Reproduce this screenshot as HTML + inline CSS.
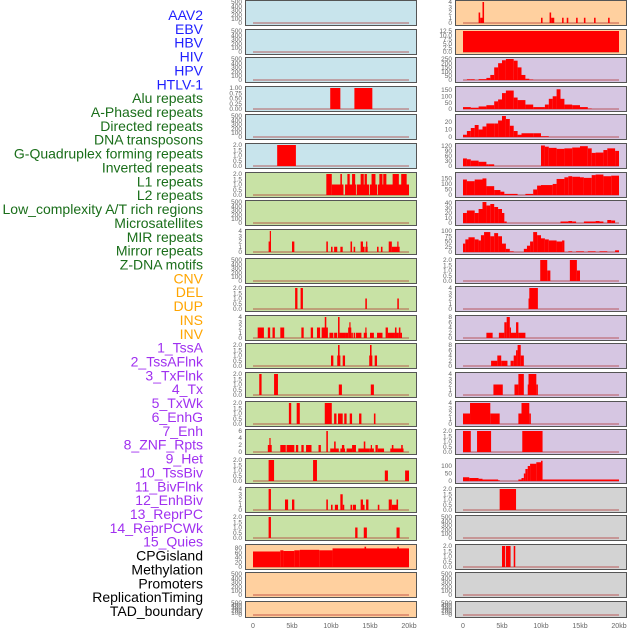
<!DOCTYPE html>
<html><head><meta charset="utf-8">
<style>
html,body{margin:0;padding:0;background:#fff;width:630px;height:630px;overflow:hidden}
svg{display:block}
.lab{font-family:"Liberation Sans",sans-serif;font-size:14px}
.tk{font-family:"Liberation Sans",sans-serif;font-size:6.5px;fill:#666}
.xt{font-family:"Liberation Sans",sans-serif;font-size:7px;fill:#666}
</style></head>
<body>
<svg id="chart" width="630" height="630"></svg>
<script>
const trackLabels = ["AAV2","EBV","HBV","HIV","HPV","HTLV-1","Alu repeats","A-Phased repeats","Directed repeats","DNA transposons","G-Quadruplex forming repeats","Inverted repeats","L1 repeats","L2 repeats","Low_complexity A/T rich regions","Microsatellites","MIR repeats","Mirror repeats","Z-DNA motifs","CNV","DEL","DUP","INS","INV","1_TssA","2_TssAFlnk","3_TxFlnk","4_Tx","5_TxWk","6_EnhG","7_Enh","8_ZNF_Rpts","9_Het","10_TssBiv","11_BivFlnk","12_EnhBiv","13_ReprPC","14_ReprPCWk","15_Quies","CPGisland","Methylation","Promoters","ReplicationTiming","TAD_boundary"];
const labelGroups = ["virus","virus","virus","virus","virus","virus","rep","rep","rep","rep","rep","rep","rep","rep","rep","rep","rep","rep","rep","sv","sv","sv","sv","sv","chr","chr","chr","chr","chr","chr","chr","chr","chr","chr","chr","chr","chr","chr","chr","oth","oth","oth","oth","oth"];
const xTickValues = [0,5,10,15,20];
const xTickLabels = ["0","5kb","10kb","15kb","20kb"];

const leftYMax = [500,500,500,1,500,2,2,500,4,500,2,4,2,2,2,6,2,4,2,88,500,500];
const rightYMax = [4,12.5,250,165,28,125,190,42,100,2,4,8,8,4,4,2,140,2,500,2,500,500];
const leftTicks = [[0,100,200,300,400,500],[0,100,200,300,400,500],[0,100,200,300,400,500],[0,0.25,0.5,0.75,1],[0,100,200,300,400,500],[0,0.5,1,1.5,2],[0,0.5,1,1.5,2],[0,100,200,300,400,500],[0,1,2,3,4],[0,100,200,300,400,500],[0,0.5,1,1.5,2],[0,1,2,3,4],[0,0.5,1,1.5,2],[0,0.5,1,1.5,2],[0,0.5,1,1.5,2],[0,2,4,6],[0,0.5,1,1.5,2],[0,1,2,3,4],[0,0.5,1,1.5,2],[0,20,40,60,80],[0,100,200,300,400,500],[0,100,200,300,400,500]];
const rightTicks = [[0,1,2,3,4],[0,2.5,5,7.5,10,12.5],[0,50,100,150,200,250],[0,50,100,150],[0,10,20],[0,30,60,90,120],[0,50,100,150],[0,10,20,30,40],[0,25,50,75,100],[0,0.5,1,1.5,2],[0,1,2,3,4],[0,2,4,6,8],[0,2,4,6,8],[0,1,2,3,4],[0,1,2,3,4],[0,0.5,1,1.5,2],[0,50,100],[0,0.5,1,1.5,2],[0,100,200,300,400,500],[0,0.5,1,1.5,2],[0,100,200,300,400,500],[0,100,200,300,400,500]];

// bars: [startKb, endKb, value]
const leftBars = [
 [],[],[],
 [[9.9,11.2,1],[13.0,15.3,1]],
 [],
 [[3.1,5.5,2]],
 [[9.4,10.1,2],[10.1,11.6,1],[11.2,11.4,2],[11.8,13.2,1],[12.1,12.4,2],[12.7,13.1,2],[13.3,14.9,1],[13.8,14.2,2],[14.3,14.6,2],[15.0,15.9,1],[15.2,15.7,2],[16.0,20.0,1],[16.2,16.6,2],[16.7,17.1,2],[17.9,18.7,2],[19.0,19.7,2]],
 [],
 [[2.0,2.3,2],[2.15,2.25,4],[5.0,5.3,2],[9.4,9.6,2],[10.0,10.2,1],[10.4,10.8,1],[11.2,11.5,1],[12.5,12.7,2],[12.9,13.1,1],[13.8,14.1,2],[14.1,14.3,1],[14.4,14.7,1],[14.5,14.6,2],[15.9,16.1,1],[16.4,16.6,1],[17.4,17.8,2],[17.8,18.8,1],[18.5,18.6,2]],
 [],
 [[5.4,5.7,2],[6.1,6.4,2],[14.4,14.6,1],[18.5,18.7,1]],
 [[0.6,1.4,2],[1.9,2.2,2],[2.5,2.8,2],[3.5,4.0,2],[6.2,6.5,2],[7.4,7.7,2],[8.2,8.6,2],[8.8,9.6,2],[9.2,9.4,4],[9.8,10.3,1],[10.4,10.8,1],[10.9,11.1,4],[11.1,11.8,1],[11.8,12.2,1],[12.2,12.6,2],[12.35,12.5,3],[12.6,12.8,1],[12.9,13.1,1],[13.2,13.9,1],[14.2,14.6,1],[14.4,14.5,2],[15.0,15.5,1],[15.9,16.6,1],[17.0,17.3,2],[17.3,18.2,1],[18.2,18.4,2],[18.4,18.7,1],[18.7,18.9,2],[18.9,19.1,1]],
 [[10.0,10.3,1],[10.8,11.2,1],[10.9,11.1,2],[11.5,11.8,1],[14.9,15.3,1],[15.0,15.2,2],[15.6,15.9,1]],
 [[0.8,1.1,2],[2.7,3.2,2],[11.0,11.4,1],[15.1,15.5,1]],
 [[4.6,4.9,2],[5.6,6.0,2],[9.2,10.1,2],[10.4,10.7,1],[10.9,11.5,1],[11.7,12.0,1],[12.4,12.7,1],[13.6,13.9,1],[15.5,15.7,1]],
 [[1.9,2.4,2],[2.1,2.2,4],[3.5,4.2,2],[4.3,5.3,2],[5.5,5.8,2],[6.2,6.5,2],[6.8,7.5,2],[8.4,8.7,2],[9.4,9.6,6],[9.9,11.0,1],[10.4,10.6,3],[11.2,11.8,1],[11.4,11.7,2],[12.0,12.7,1],[12.7,13.2,2],[13.5,14.9,1],[14.2,14.4,3],[14.9,15.5,1],[15.1,15.2,2],[15.7,16.0,2],[16.0,16.8,1],[17.6,19.3,1],[17.8,18.0,2],[19.0,19.2,2]],
 [[2.0,2.7,2],[7.7,8.2,2],[16.9,17.3,1],[19.5,20.0,1]],
 [[2.0,2.3,4],[4.1,4.5,2],[5.0,5.3,2],[9.4,9.6,2],[10.0,10.2,1],[10.5,10.9,1],[11.2,11.5,3],[11.5,11.7,1],[12.5,12.7,1],[12.8,13.2,1],[13.8,14.1,2],[14.1,14.3,1],[14.5,14.8,2],[16.0,16.2,1],[17.4,17.8,2],[17.8,18.5,1],[18.4,18.6,2]],
 [[2.0,2.3,2],[13.1,13.4,1],[14.2,14.6,1],[18.4,18.8,1]],
 [[0,3.5,65],[3.5,3.9,70],[3.9,5.3,67],[5.3,6.0,70],[6.0,8.5,72],[8.5,10.2,70],[10.2,20.0,78],[14.3,14.5,85],[18.5,18.7,85]],
 [],[]
];
const rightBars = [
 [[2.0,2.2,2],[2.5,2.7,4],[2.2,2.5,1],[10.0,10.2,1],[11.1,11.3,2],[11.3,11.7,1],[12.7,12.9,1],[13.3,13.5,1],[14.5,14.7,1],[15.5,15.7,1],[16.8,17.0,1],[18.6,18.8,1]],
 [[0,20,12.5]],
 [[0.5,1.0,8],[1.0,1.5,8],[2.0,3.0,10],[3.0,3.5,25],[3.5,4.0,60],[4.0,4.5,150],[4.5,5.0,200],[5.0,5.5,235],[5.5,6.5,250],[6.5,7.0,230],[7.0,7.5,150],[7.5,8.0,60],[8.0,8.5,15],[8.5,9.0,5]],
 [[0,1,15],[1,2,10],[2,3,20],[3,4,30],[4,4.5,60],[4.5,5,75],[5,5.5,125],[5.5,6.5,145],[6.5,7,90],[7,8,70],[8,9,35],[9,10,15],[10,10.5,15],[10.5,11,35],[11,11.5,80],[11.5,12,100],[12,12.5,155],[12.5,13,80],[13,14,35],[14,15,30],[15,16,15],[16,16.5,3]],
 [[0,0.5,3],[0.5,1,8],[1,1.5,12],[1.5,2,16],[2,2.5,10],[2.5,3,14],[3,4,18],[4,4.5,18],[4.5,5,22],[5,5.5,28],[5.5,6,24],[6,6.5,15],[6.5,7,8],[7,7.5,3],[7.5,9,5],[9,10,5],[10,11,1]],
 [[0,0.5,45],[0.5,1,40],[1,2,32],[2,3,25],[3,3.3,10],[3.3,4,10],[10,10.5,122],[10.5,11,115],[11,12,108],[12,13,102],[13,14,105],[14,15,110],[15,16,118],[16,16.5,105],[16.5,17,78],[17,18,80],[18,18.5,95],[18.5,19.5,105],[19.5,20,90]],
 [[0,0.5,140],[0.5,1.5,125],[1.5,2.5,140],[2.5,3,150],[3,4,80],[4,4.8,45],[4.8,5.3,30],[5.3,7,10],[8,9,10],[9,9.5,50],[9.5,10,85],[10,11.5,90],[11.5,12,100],[12,13,145],[13,13.5,160],[13.5,14,170],[14,15,165],[15,15.5,160],[15.5,16.5,155],[16.5,17,180],[17,18,185],[18,19,170],[19,20,175]],
 [[0,0.5,20],[0.5,1.5,25],[1.5,2,20],[2,2.5,28],[2.5,3,42],[3,3.5,35],[3.5,4,38],[4,4.5,32],[4.5,5,28],[5,5.3,20],[5.3,5.6,3],[12.5,13.5,3],[13.5,14,4],[14,14.5,3],[15.5,17,3],[17,17.5,4],[17.5,18,3],[18.5,19,6],[19,19.5,5]],
 [[0,0.3,40],[0.3,0.7,60],[0.7,1.5,70],[1.5,2,60],[2,2.3,55],[2.3,2.7,80],[2.7,3.5,95],[3.5,4,75],[4,4.5,90],[4.5,5,75],[5,5.5,40],[5.5,6,15],[6,6.5,3],[7.8,8.2,15],[8.2,8.6,30],[8.6,9,50],[9,9.5,95],[9.5,10,80],[10,10.5,65],[10.5,11,60],[11,12,55],[12,12.7,50],[12.7,13,55],[13.5,14,3],[14.5,15.5,3],[16,17,3],[17.5,18.5,3],[19.5,20,8]],
 [[9.9,10.8,2],[10.8,11.2,1],[13.7,14.6,2],[14.6,15.0,1]],
 [[8.4,8.5,2],[8.5,9.6,4]],
 [[3.0,3.8,2],[4.6,5.3,2],[5.3,5.6,6],[5.6,6.0,8],[6.0,6.1,4],[6.1,6.8,2],[6.8,7.1,6],[7.1,8.0,2]],
 [[3.6,4.4,2],[4.4,4.9,4],[4.9,5.7,2],[6.1,6.5,2],[6.5,6.8,4],[6.8,7.0,6],[7.0,7.4,8],[7.4,7.8,4]],
 [[3.9,5.1,2],[6.6,7.1,2],[7.1,7.8,4],[8.3,8.4,2],[8.4,9.4,4],[9.4,9.6,2]],
 [[0,0.9,2],[0.9,3.5,4],[3.5,4.7,2],[7.1,7.5,2],[7.5,8.5,4],[8.5,8.7,2]],
 [[0,1.0,2],[1.8,3.6,2],[7.6,10.2,2]],
 [[0,0.8,25],[0.8,2,20],[2,2.5,15],[2.5,4.5,10],[4.5,4.7,5],[7.1,7.5,10],[7.5,7.8,20],[7.8,8.0,50],[8.0,8.3,80],[8.3,8.6,100],[8.6,9.4,115],[9.4,10,125],[10,10.2,135],[10.2,20,10]],
 [[4.7,6.8,2]],
 [],
 [[5.0,5.4,2],[5.5,6.1,2],[6.5,6.7,2]],
 [],[]
];

const NS = "http://www.w3.org/2000/svg";
const svg = document.getElementById("chart");
function mk(tag, attrs, parent){const e=document.createElementNS(NS,tag);for(const k in attrs)e.setAttribute(k,attrs[k]);(parent||svg).appendChild(e);return e;}

const groupColor = {virus:"#1f1fff", rep:"#1a6e1a", sv:"#ffa500", chr:"#a030f0", oth:"#000"};
const labelTop = 15, labelStep = (611-15)/43;
trackLabels.forEach((t,i)=>{
  const e = mk("text",{x:203,y:labelTop+i*labelStep+5,"text-anchor":"end",class:"lab",fill:groupColor[labelGroups[i]]});
  
  
  e.textContent = t;
});

function decimalsOf(v){const s=String(v);const p=s.indexOf('.');return p<0?0:s.length-p-1;}

const rowStep = 28.62;
function leftBg(i){return i<6?"#c8e4ec":(i<19?"#c8e2a5":"#ffd09f");}
function rightBg(i){return i<2?"#ffd09f":(i<17?"#d6c6e2":"#d3d3d3");}

function drawColumn(colX, kb0X, ymaxArr, ticksArr, barsArr, bgFn, side){
  const pw = 171, kbScale = 7.8;
  const xs = kb => kb0X + kb*kbScale;
  for(let i=0;i<22;i++){
    const top = Math.round(i*rowStep)+0.5;
    const h = i===21 ? 16 : 25;
    const g = mk("g",{});
    
    
    mk("rect",{x:colX+0.5,y:top,width:pw,height:h,fill:bgFn(i),stroke:"#555","stroke-width":1},g);
    const max = ymaxArr[i];
    const y0 = top + h - 2.5, ph = h - 4;
    const ys = v => y0 - v/max*ph;
    const dec = Math.max(...ticksArr[i].map(decimalsOf));
    ticksArr[i].forEach(v=>{
      const t = mk("text",{x:colX-3,y:ys(v)+2.2,"text-anchor":"end",class:"tk"},g);
      
      
      t.textContent = v.toFixed(dec);
    });
    mk("line",{x1:xs(0),x2:xs(20),y1:y0,y2:y0,stroke:"rgba(170,30,30,0.45)","stroke-width":1.6},g);
    barsArr[i].forEach(b=>{
      const r = mk("rect",{x:xs(b[0]),y:ys(b[2]),width:Math.max(1.2,xs(b[1])-xs(b[0])),height:y0-ys(b[2]),fill:"#ff0000"},g);
      
      
    });
  }
  xTickValues.forEach((v,k)=>{
    const t = mk("text",{x:xs(v),y:628,"text-anchor":"middle",class:"xt"});
    
    
    t.textContent = xTickLabels[k];
  });
}
drawColumn(245, 253, leftYMax, leftTicks, leftBars, leftBg, "left");
drawColumn(455, 463, rightYMax, rightTicks, rightBars, rightBg, "right");
</script>
</body></html>
